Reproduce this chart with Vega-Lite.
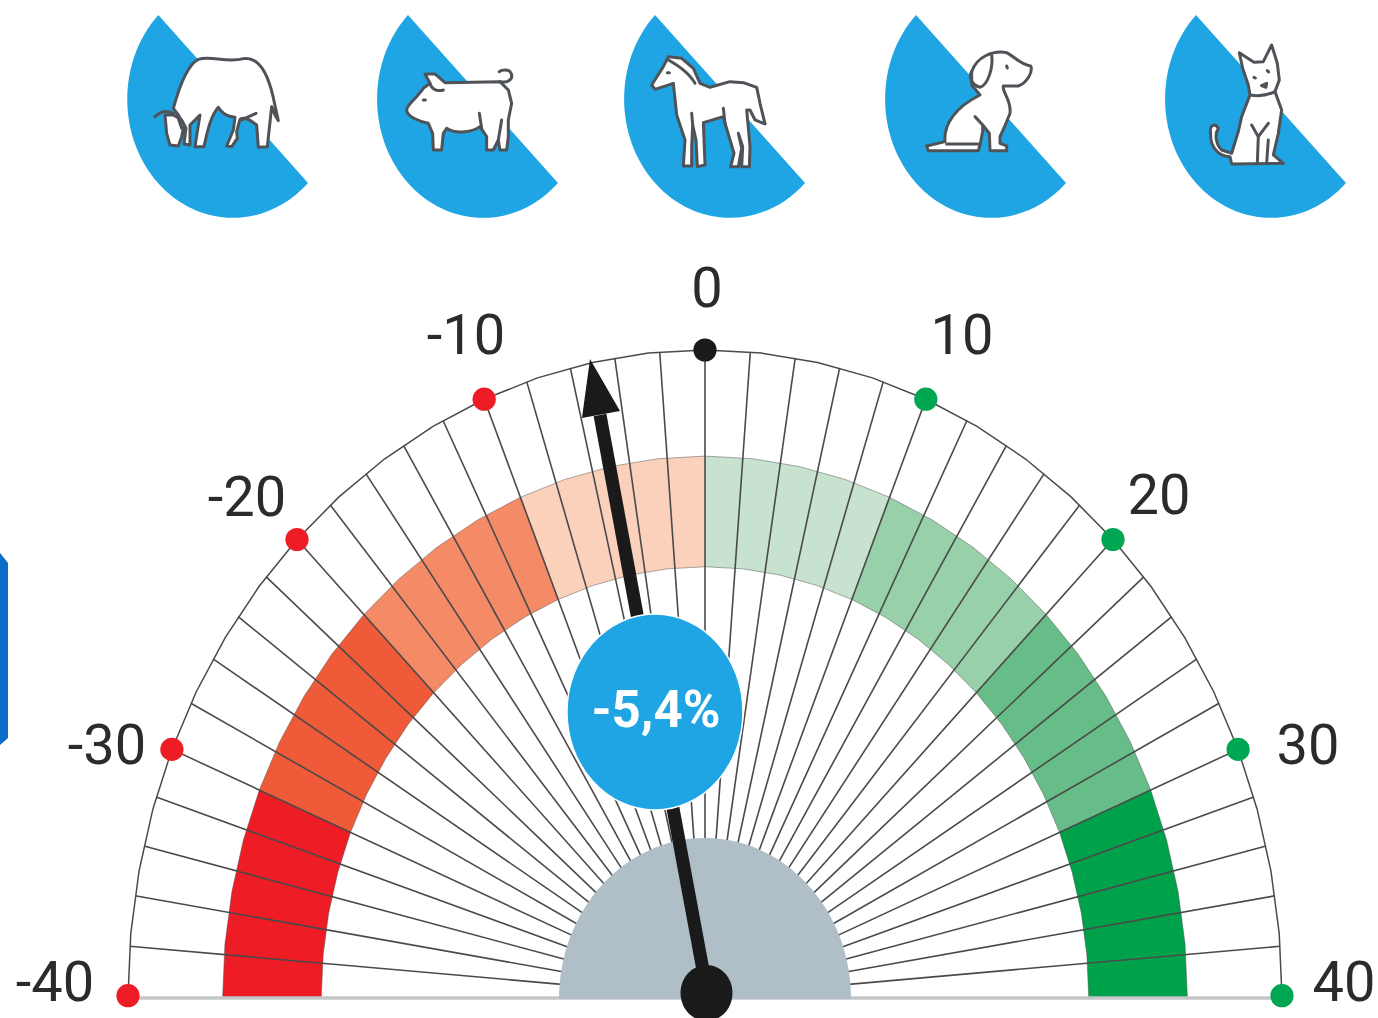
{"$schema":"https://vega.github.io/schema/vega-lite/v6.json","width":1378,"height":1018,"padding":0,"autosize":"none","background":"white","view":{"stroke":null},
"datasets":{
"icons":[{"animal":"cow","x":-103.12,"y":154.1},{"animal":"pig","x":-103.12,"y":154.1},{"animal":"horse","x":-16.46,"y":154.1},{"animal":"dog","x":-16.46,"y":154.1},{"animal":"cat","x":77.12,"y":154.1}],
"edge":[{"o":1,"x":-122.18,"y":68.62},{"o":2,"x":-120.8,"y":67.08},{"o":3,"x":-120.8,"y":40.03},{"o":4,"x":-122.18,"y":38.95}],
"rim":[{"o":1,"x":-100,"y":0},{"o":2,"x":-99.52,"y":9.8},{"o":3,"x":-98.08,"y":19.51},{"o":4,"x":-95.69,"y":29.03},{"o":5,"x":-92.39,"y":38.27},{"o":6,"x":-88.19,"y":47.14},{"o":7,"x":-83.15,"y":55.56},{"o":8,"x":-77.3,"y":63.44},{"o":9,"x":-70.71,"y":70.71},{"o":10,"x":-63.44,"y":77.3},{"o":11,"x":-55.56,"y":83.15},{"o":12,"x":-47.14,"y":88.19},{"o":13,"x":-38.27,"y":92.39},{"o":14,"x":-29.03,"y":95.69},{"o":15,"x":-19.51,"y":98.08},{"o":16,"x":-9.8,"y":99.52},{"o":17,"x":0,"y":100},{"o":18,"x":9.8,"y":99.52},{"o":19,"x":19.51,"y":98.08},{"o":20,"x":29.03,"y":95.69},{"o":21,"x":38.27,"y":92.39},{"o":22,"x":47.14,"y":88.19},{"o":23,"x":55.56,"y":83.15},{"o":24,"x":63.44,"y":77.3},{"o":25,"x":70.71,"y":70.71},{"o":26,"x":77.3,"y":63.44},{"o":27,"x":83.15,"y":55.56},{"o":28,"x":88.19,"y":47.14},{"o":29,"x":92.39,"y":38.27},{"o":30,"x":95.69,"y":29.03},{"o":31,"x":98.08,"y":19.51},{"o":32,"x":99.52,"y":9.8},{"o":33,"x":100,"y":0}],
"bands":[
{"seg":"-10..0","o":1,"x":0,"y":83.6},{"seg":"-10..0","o":2,"x":-8.19,"y":83.2},{"seg":"-10..0","o":3,"x":-16.31,"y":81.99},{"seg":"-10..0","o":4,"x":-24.27,"y":80},{"seg":"-10..0","o":5,"x":-31.99,"y":77.24},{"seg":"-10..0","o":6,"x":-25.45,"y":61.44},{"seg":"-10..0","o":7,"x":-19.3,"y":63.63},{"seg":"-10..0","o":8,"x":-12.97,"y":65.22},{"seg":"-10..0","o":9,"x":-6.52,"y":66.18},{"seg":"-10..0","o":10,"x":0,"y":66.5},
{"seg":"-20..-10","o":1,"x":-31.99,"y":77.24},{"seg":"-20..-10","o":2,"x":-39.41,"y":73.73},{"seg":"-20..-10","o":3,"x":-46.45,"y":69.51},{"seg":"-20..-10","o":4,"x":-53.04,"y":64.62},{"seg":"-20..-10","o":5,"x":-59.11,"y":59.11},{"seg":"-20..-10","o":6,"x":-47.02,"y":47.02},{"seg":"-20..-10","o":7,"x":-42.19,"y":51.4},{"seg":"-20..-10","o":8,"x":-36.95,"y":55.29},{"seg":"-20..-10","o":9,"x":-31.35,"y":58.65},{"seg":"-20..-10","o":10,"x":-25.45,"y":61.44},
{"seg":"-30..-20","o":1,"x":-59.11,"y":59.11},{"seg":"-30..-20","o":2,"x":-64.62,"y":53.04},{"seg":"-30..-20","o":3,"x":-69.51,"y":46.45},{"seg":"-30..-20","o":4,"x":-73.73,"y":39.41},{"seg":"-30..-20","o":5,"x":-77.24,"y":31.99},{"seg":"-30..-20","o":6,"x":-61.44,"y":25.45},{"seg":"-30..-20","o":7,"x":-58.65,"y":31.35},{"seg":"-30..-20","o":8,"x":-55.29,"y":36.95},{"seg":"-30..-20","o":9,"x":-51.4,"y":42.19},{"seg":"-30..-20","o":10,"x":-47.02,"y":47.02},
{"seg":"-40..-30","o":1,"x":-77.24,"y":31.99},{"seg":"-40..-30","o":2,"x":-80,"y":24.27},{"seg":"-40..-30","o":3,"x":-81.99,"y":16.31},{"seg":"-40..-30","o":4,"x":-83.2,"y":8.19},{"seg":"-40..-30","o":5,"x":-83.6,"y":0},{"seg":"-40..-30","o":6,"x":-66.5,"y":0},{"seg":"-40..-30","o":7,"x":-66.18,"y":6.52},{"seg":"-40..-30","o":8,"x":-65.22,"y":12.97},{"seg":"-40..-30","o":9,"x":-63.63,"y":19.3},{"seg":"-40..-30","o":10,"x":-61.44,"y":25.45},
{"seg":"0..10","o":1,"x":0,"y":83.6},{"seg":"0..10","o":2,"x":8.19,"y":83.2},{"seg":"0..10","o":3,"x":16.31,"y":81.99},{"seg":"0..10","o":4,"x":24.27,"y":80},{"seg":"0..10","o":5,"x":31.99,"y":77.24},{"seg":"0..10","o":6,"x":25.45,"y":61.44},{"seg":"0..10","o":7,"x":19.3,"y":63.63},{"seg":"0..10","o":8,"x":12.97,"y":65.22},{"seg":"0..10","o":9,"x":6.52,"y":66.18},{"seg":"0..10","o":10,"x":0,"y":66.5},
{"seg":"10..20","o":1,"x":31.99,"y":77.24},{"seg":"10..20","o":2,"x":39.41,"y":73.73},{"seg":"10..20","o":3,"x":46.45,"y":69.51},{"seg":"10..20","o":4,"x":53.04,"y":64.62},{"seg":"10..20","o":5,"x":59.11,"y":59.11},{"seg":"10..20","o":6,"x":47.02,"y":47.02},{"seg":"10..20","o":7,"x":42.19,"y":51.4},{"seg":"10..20","o":8,"x":36.95,"y":55.29},{"seg":"10..20","o":9,"x":31.35,"y":58.65},{"seg":"10..20","o":10,"x":25.45,"y":61.44},
{"seg":"20..30","o":1,"x":59.11,"y":59.11},{"seg":"20..30","o":2,"x":64.62,"y":53.04},{"seg":"20..30","o":3,"x":69.51,"y":46.45},{"seg":"20..30","o":4,"x":73.73,"y":39.41},{"seg":"20..30","o":5,"x":77.24,"y":31.99},{"seg":"20..30","o":6,"x":61.44,"y":25.45},{"seg":"20..30","o":7,"x":58.65,"y":31.35},{"seg":"20..30","o":8,"x":55.29,"y":36.95},{"seg":"20..30","o":9,"x":51.4,"y":42.19},{"seg":"20..30","o":10,"x":47.02,"y":47.02},
{"seg":"30..40","o":1,"x":77.24,"y":31.99},{"seg":"30..40","o":2,"x":80,"y":24.27},{"seg":"30..40","o":3,"x":81.99,"y":16.31},{"seg":"30..40","o":4,"x":83.2,"y":8.19},{"seg":"30..40","o":5,"x":83.6,"y":0},{"seg":"30..40","o":6,"x":66.5,"y":0},{"seg":"30..40","o":7,"x":66.18,"y":6.52},{"seg":"30..40","o":8,"x":65.22,"y":12.97},{"seg":"30..40","o":9,"x":63.63,"y":19.3},{"seg":"30..40","o":10,"x":61.44,"y":25.45}],
"ticks":[{"v":-38,"x":-23.93,"y":1.88,"x2":-99.69,"y2":7.85},{"v":-36,"x":-23.7,"y":3.75,"x2":-98.77,"y2":15.64},{"v":-34,"x":-23.34,"y":5.6,"x2":-97.24,"y2":23.34},{"v":-32,"x":-22.83,"y":7.42,"x2":-95.11,"y2":30.9},{"v":-30,"x":-22.17,"y":9.18,"x2":-92.39,"y2":38.27},{"v":-28,"x":-21.38,"y":10.9,"x2":-89.1,"y2":45.4},{"v":-26,"x":-20.46,"y":12.54,"x2":-85.26,"y2":52.25},{"v":-24,"x":-19.42,"y":14.11,"x2":-80.9,"y2":58.78},{"v":-22,"x":-18.25,"y":15.59,"x2":-76.04,"y2":64.94},{"v":-20,"x":-16.97,"y":16.97,"x2":-70.71,"y2":70.71},{"v":-18,"x":-15.59,"y":18.25,"x2":-64.94,"y2":76.04},{"v":-16,"x":-14.11,"y":19.42,"x2":-58.78,"y2":80.9},{"v":-14,"x":-12.54,"y":20.46,"x2":-52.25,"y2":85.26},{"v":-12,"x":-10.9,"y":21.38,"x2":-45.4,"y2":89.1},{"v":-10,"x":-9.18,"y":22.17,"x2":-38.27,"y2":92.39},{"v":-8,"x":-7.42,"y":22.83,"x2":-30.9,"y2":95.11},{"v":-6,"x":-5.6,"y":23.34,"x2":-23.34,"y2":97.24},{"v":-4,"x":-3.75,"y":23.7,"x2":-15.64,"y2":98.77},{"v":-2,"x":-1.88,"y":23.93,"x2":-7.85,"y2":99.69},{"v":0,"x":0,"y":24,"x2":0,"y2":100},{"v":2,"x":1.88,"y":23.93,"x2":7.85,"y2":99.69},{"v":4,"x":3.75,"y":23.7,"x2":15.64,"y2":98.77},{"v":6,"x":5.6,"y":23.34,"x2":23.34,"y2":97.24},{"v":8,"x":7.42,"y":22.83,"x2":30.9,"y2":95.11},{"v":10,"x":9.18,"y":22.17,"x2":38.27,"y2":92.39},{"v":12,"x":10.9,"y":21.38,"x2":45.4,"y2":89.1},{"v":14,"x":12.54,"y":20.46,"x2":52.25,"y2":85.26},{"v":16,"x":14.11,"y":19.42,"x2":58.78,"y2":80.9},{"v":18,"x":15.59,"y":18.25,"x2":64.94,"y2":76.04},{"v":20,"x":16.97,"y":16.97,"x2":70.71,"y2":70.71},{"v":22,"x":18.25,"y":15.59,"x2":76.04,"y2":64.94},{"v":24,"x":19.42,"y":14.11,"x2":80.9,"y2":58.78},{"v":26,"x":20.46,"y":12.54,"x2":85.26,"y2":52.25},{"v":28,"x":21.38,"y":10.9,"x2":89.1,"y2":45.4},{"v":30,"x":22.17,"y":9.18,"x2":92.39,"y2":38.27},{"v":32,"x":22.83,"y":7.42,"x2":95.11,"y2":30.9},{"v":34,"x":23.34,"y":5.6,"x2":97.24,"y2":23.34},{"v":36,"x":23.7,"y":3.75,"x2":98.77,"y2":15.64},{"v":38,"x":23.93,"y":1.88,"x2":99.69,"y2":7.85}],
"dots":[{"v":-40,"side":"neg","x":-100,"y":0.2},{"v":-30,"side":"neg","x":-92.39,"y":38.27},{"v":-20,"side":"neg","x":-70.71,"y":70.71},{"v":-10,"side":"neg","x":-38.27,"y":92.39},{"v":0,"side":"zero","x":0,"y":100},{"v":10,"side":"pos","x":38.27,"y":92.39},{"v":20,"side":"pos","x":70.71,"y":70.71},{"v":30,"side":"pos","x":92.39,"y":38.27},{"v":40,"side":"pos","x":100,"y":0.2}],
"labels":[{"label":"0","x":0.35,"y":109.58},{"label":"-10","x":-41.42,"y":102.32},{"label":"10","x":44.54,"y":102.32},{"label":"-20","x":-79.38,"y":77.28},{"label":"20","x":78.68,"y":77.59},{"label":"-30","x":-103.64,"y":38.95},{"label":"30","x":104.51,"y":38.95},{"label":"-40","x":-112.65,"y":2.32},{"label":"40","x":110.75,"y":2.32}],
"head":[{"o":1,"x":-19.93,"y":98.6},{"o":2,"x":-21.32,"y":89.5},{"o":3,"x":-14.73,"y":90.56}]
},
"encoding":{"x":{"field":"x","type":"quantitative","axis":null,"scale":{"domain":[-122.184,116.638],"range":[0,1378],"nice":false,"zero":false}},"y":{"field":"y","type":"quantitative","axis":null,"scale":{"domain":[-3.246,154.096],"range":[1018,0],"nice":false,"zero":false}}},
"resolve":{"scale":{"shape":"independent","color":"independent"}},
"layer":[
{"data":{"name":"edge"},"mark":{"type":"line","filled":true,"fill":"#0a6cc6","stroke":null},"encoding":{"order":{"field":"o"}}},
{"data":{"name":"icons"},"mark":{"type":"point","filled":true,"fill":"#1fa5e3","stroke":null,"size":0.4444,"opacity":1},"encoding":{"shape":{"field":"animal","type":"nominal","legend":null,"scale":{"domain":["cow","pig","horse","dog","cat"],"range":["M145,45 A318,357 0 0 0 144,549 A318,357 0 0 0 594,549Z","M894,45 A318,357 0 0 0 894,549 A318,357 0 0 0 1344,549Z","M135,45 A318,357 0 0 0 135,549 A318,357 0 0 0 585,549Z","M918,45 A318,357 0 0 0 918,549 A318,357 0 0 0 1368,549Z","M138,45 A318,357 0 0 0 138,549 A318,357 0 0 0 588,549Z"]}}}},
{"data":{"name":"icons"},"mark":{"type":"point","filled":true,"fill":"#ffffff","stroke":"#4f5358","strokeWidth":3,"strokeJoin":"round","size":0.4444,"opacity":1},"encoding":{"shape":{"field":"animal","type":"nominal","legend":null,"scale":{"domain":["cow","pig","horse","dog","cat"],"range":[
"M265,178 C300,165 350,190 400,176 C440,170 470,210 488,285 L505,362 L495,345 L485,320 L472,440 L445,442 L440,375 C420,360 405,350 390,358 L380,395 L382,415 L365,440 L350,438 L370,390 L375,352 C350,350 335,340 325,322 C305,345 295,380 282,440 L255,440 L262,395 L270,345 L240,375 L240,435 L222,432 L228,385 L215,360 L190,345 L165,345 L170,400 L180,435 L205,438 L215,410 L222,375 L205,345 L190,325 C205,270 230,195 265,178Z",
"M945,222 L975,222 L1005,248 L1170,245 L1195,270 L1205,310 L1195,360 L1195,410 L1190,450 L1170,450 L1165,420 L1150,450 L1130,450 L1130,410 L1110,380 C1090,395 1040,405 1010,385 L1000,400 L995,450 L970,450 L968,400 L955,370 C930,365 890,350 890,330 C890,315 915,300 940,265 L960,250Z",
"M175,170 L215,175 L250,205 L270,250 L300,262 L360,245 L400,248 L440,262 L450,310 L465,372 L435,360 L420,330 L410,330 L420,440 L418,500 L395,500 L398,440 L385,400 L395,445 L385,500 L362,500 L372,460 L345,370 L340,350 L280,368 L285,495 L262,500 L258,420 L248,375 L245,440 L245,498 L220,498 L225,420 L200,345 L190,250 L135,268 L125,255 L160,200Z",
"M1085,215 C1100,170 1150,150 1190,158 C1220,175 1235,195 1262,198 C1270,215 1250,250 1225,258 L1180,258 C1175,275 1205,300 1200,340 L1188,370 L1170,410 L1170,430 L1190,438 L1190,452 L1140,452 L1138,400 L1118,375 L1118,395 L1110,435 L1105,452 L955,452 L950,438 L1005,425 C1000,370 1040,320 1110,285 L1085,255Z",
"M268,158 L312,187 L340,185 L365,135 L382,190 L388,240 L375,275 L395,330 L385,400 L370,465 L400,490 L245,492 L240,470 C205,470 180,440 182,400 C178,375 195,368 205,385 C195,400 195,430 215,450 L245,460 L265,395 L275,350 L300,285 L295,255 L278,205Z"]}}}},
{"data":{"name":"icons"},"mark":{"type":"point","filled":false,"fill":"transparent","stroke":"#4f5358","strokeWidth":3,"strokeJoin":"round","strokeCap":"round","size":0.4444,"opacity":1},"encoding":{"shape":{"field":"animal","type":"nominal","legend":null,"scale":{"domain":["cow","pig","horse","dog","cat"],"range":[
"M135,350 C150,335 170,330 190,340 M395,360 L438,340 M205,355 L215,385",
"M1170,245 C1195,250 1215,235 1200,215 C1195,208 1175,208 1168,215 M960,250 C965,270 985,275 1000,270 M940,300 L946,300 M1108,340 L1115,385 M1175,360 L1165,420",
"M175,180 C200,195 235,215 255,250 M245,340 L248,375 M340,325 L345,370 M172,218 L178,218",
"M1145,165 C1150,200 1135,255 1110,262 C1085,255 1075,230 1085,215 M1190,198 L1192,204 M1095,350 L1118,375 M1010,432 L1105,432",
"M305,375 L325,410 L355,370 M325,410 L322,490 M355,420 L350,490 M312,232 L316,234 M352,212 L356,216 M335,257 L350,250 L348,262 L335,257 M300,285 C330,290 355,285 375,275"]}}}},
{"data":{"name":"bands"},"mark":{"type":"line","filled":true,"stroke":"#4d4d4d","strokeWidth":0.8,"strokeOpacity":0.6,"opacity":1},"encoding":{"order":{"field":"o"},"color":{"field":"seg","type":"nominal","legend":null,"scale":{"domain":["-40..-30","-30..-20","-20..-10","-10..0","0..10","10..20","20..30","30..40"],"range":["#ee1c25","#ef5a38","#f58a67","#fbd1bc","#c7e2cf","#98d0a9","#67bd88","#00a14b"]}}}},
{"data":{"name":"ticks"},"mark":{"type":"rule","color":"#4a4a4a","strokeWidth":1.6},"encoding":{"x2":{"field":"x2"},"y2":{"field":"y2"}}},
{"data":{"name":"rim"},"mark":{"type":"line","color":"#4a4a4a","strokeWidth":1.5},"encoding":{"order":{"field":"o"}}},
{"data":{"values":[{"x":-100,"x2":100,"y":-0.15}]},"mark":{"type":"rule","color":"#c4c7c9","strokeWidth":3.5},"encoding":{"x2":{"field":"x2"}}},
{"data":{"values":[{"part":"hub base","x":0,"y":-0.3}]},"mark":{"type":"point","filled":true,"fill":"#b0bec8","stroke":null,"opacity":1,"size":4,"shape":"M-146,0 A146,161 0 0 1 146,0Z"}},
{"data":{"values":[{"x":0.52,"y":0,"x2":-18.2,"y2":89.95}]},"mark":{"type":"rule","color":"#1a1a1a","strokeWidth":13},"encoding":{"x2":{"field":"x2"},"y2":{"field":"y2"}}},
{"data":{"name":"head"},"mark":{"type":"line","filled":true,"fill":"#1a1a1a","stroke":null},"encoding":{"order":{"field":"o"}}},
{"data":{"values":[{"part":"hub","x":0.26,"y":0.62}]},"mark":{"type":"point","filled":true,"fill":"#1a1a1a","stroke":null,"opacity":1,"size":4,"shape":"M-26,0 A26,28 0 1 1 26,0 A26,28 0 1 1 -26,0Z"}},
{"data":{"name":"dots"},"mark":{"type":"point","filled":true,"opacity":1,"size":540,"shape":"circle","stroke":null},"encoding":{"color":{"field":"side","type":"nominal","legend":null,"scale":{"domain":["neg","zero","pos"],"range":["#ee1c25","#1a1a1a","#00a651"]}}}},
{"data":{"values":[{"value":-5.4,"x":-8.67,"y":44.05}]},"mark":{"type":"point","filled":true,"fill":"#1fa5e3","stroke":"#ffffff","strokeWidth":1.5,"opacity":1,"size":4,"shape":"M-88,0 A88,98 0 1 1 88,0 A88,98 0 1 1 -88,0Z"}},
{"data":{"values":[{"t":"-5,4%","x":-8.5,"y":44.2}]},"mark":{"type":"text","font":"Roboto","fontWeight":"bold","fontSize":51,"dy":1,"fill":"#ffffff","align":"center","baseline":"middle"},"encoding":{"text":{"field":"t"}}},
{"data":{"name":"labels"},"mark":{"type":"text","font":"Roboto","fontSize":56,"dy":2,"fill":"#2b2b2b","align":"center","baseline":"middle"},"encoding":{"text":{"field":"label"}}}
]}
